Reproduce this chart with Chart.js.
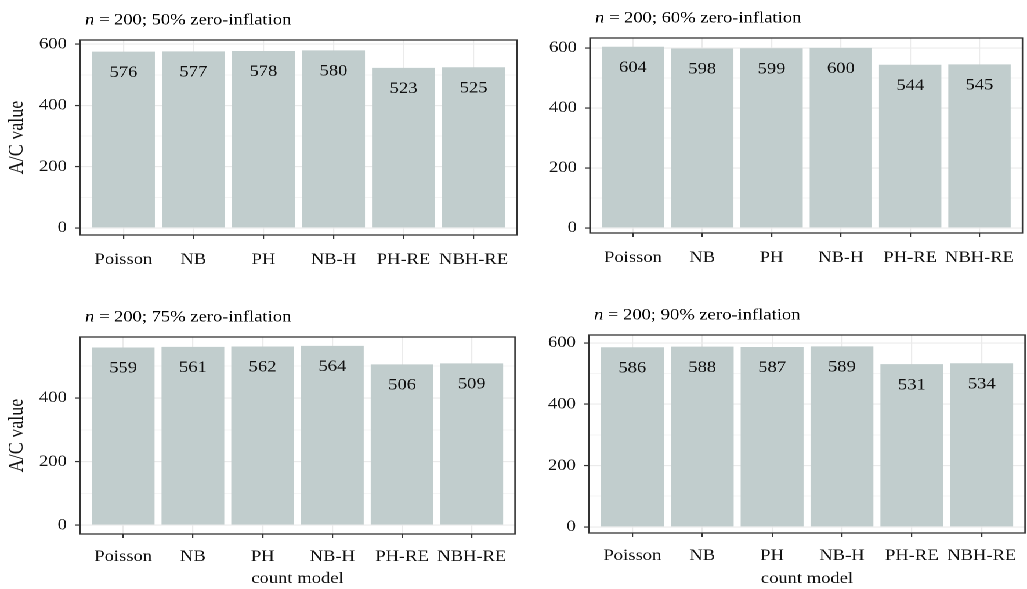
<!DOCTYPE html>
<html>
<head>
<meta charset="utf-8">
<title>A/C value by count model</title>
<script src="https://cdn.jsdelivr.net/npm/chart.js@4.4.1/dist/chart.umd.min.js"></script>
<style>
  html, body { margin: 0; padding: 0; background: #fff; overflow: hidden; }
  /* the figure is laid out on an 885px-wide sheet and widened to the window */
  #sheet { position: absolute; left: 0; top: 0; width: 885px; height: 589px;
           transform: scaleX(1.16045); transform-origin: 0 0; }
  .cell { position: absolute; }
  canvas { display: block; }
</style>
</head>
<body>
<div id="sheet">
  <div class="cell" style="left:0;top:0;width:470px;height:290px"><canvas id="p0" width="470" height="290"></canvas></div>
  <div class="cell" style="left:470px;top:0;width:415px;height:290px"><canvas id="p1" width="415" height="290"></canvas></div>
  <div class="cell" style="left:0;top:290px;width:470px;height:299px"><canvas id="p2" width="470" height="299"></canvas></div>
  <div class="cell" style="left:470px;top:290px;width:415px;height:299px"><canvas id="p3" width="415" height="299"></canvas></div>
</div>
<script>
// count models on the x axis
const categories = ['Poisson', 'NB', 'PH', 'NB-H', 'PH-RE', 'NBH-RE'];
// simulation settings shown in the panel titles
const sampleSize = 200;
const zeroInflation = ['50%', '60%', '75%', '90%'];
// A/C values per count model, one array per zero-inflation level
const ac50 = [576, 577, 578, 580, 523, 525];
const ac60 = [604, 598, 599, 600, 544, 545];
const ac75 = [559, 561, 562, 564, 506, 509];
const ac90 = [586, 588, 587, 589, 531, 534];
// y gridlines (labelled every 200, minor lines in between)
const yTicks = [0, 100, 200, 300, 400, 500, 600];

const SERIF = '"Liberation Serif", "Times New Roman", serif';
const BAR_FILL = '#c1cdcd';
const GRID = '#ebebeb';
const FRAME = '#333333';
const INK = '#111111';

// panel boxes: layout padding, y-axis band width, x-axis band height, y limits
const panels = [
  { canvas: 'p0', values: ac50, zi: zeroInflation[0], yMin: -23, yMax: 614,
    pad: { top: 40, left: 0, right: 24.5, bottom: 0 }, yBand: 68.9, xBand: 55, xPad: 11, yTitle: true,  xTitle: false },
  { canvas: 'p1', values: ac60, zi: zeroInflation[1], yMin: -17, yMax: 633,
    pad: { top: 38, left: 0, right: 1.7, bottom: 0 },  yBand: 38.4, xBand: 57, xPad: 11, yTitle: false, xTitle: false },
  { canvas: 'p2', values: ac75, zi: zeroInflation[2], yMin: -28, yMax: 592,
    pad: { top: 47, left: 0, right: 26.2, bottom: 0 }, yBand: 68.9, xBand: 55, xPad: 9,  yTitle: true,  xTitle: true },
  { canvas: 'p3', values: ac90, zi: zeroInflation[3], yMin: -20, yMax: 626,
    pad: { top: 45, left: 0, right: 1.7, bottom: 0 },  yBand: 37.6, xBand: 56, xPad: 9,  yTitle: false, xTitle: true }
];

// value labels inside the bars, the panel frame and the panel title
const panelDecor = {
  id: 'panelDecor',
  afterDatasetsDraw(chart, args, opts) {
    const { ctx, chartArea: { left, top, right, bottom } } = chart;
    const ds = chart.data.datasets[0];
    const meta = chart.getDatasetMeta(0);
    ctx.save();
    ctx.font = '16px ' + SERIF;
    ctx.fillStyle = INK;
    ctx.textAlign = 'center';
    ctx.textBaseline = 'middle';
    meta.data.forEach((bar, i) => {
      ctx.fillText(String(ds.data[i].y), bar.x, bar.y + 21);
    });

    ctx.strokeStyle = FRAME;
    ctx.lineWidth = 1.3;
    ctx.strokeRect(left, top, right - left, bottom - top);

    const tx = left + 4.3, ty = top - 19.5;
    ctx.textAlign = 'left';
    ctx.fillStyle = '#000';
    ctx.font = 'italic 16px ' + SERIF;
    ctx.fillText('n', tx, ty);
    const w = ctx.measureText('n').width;
    ctx.font = '16px ' + SERIF;
    ctx.fillText(' = ' + opts.n + '; ' + opts.zi + ' zero-inflation', tx + w, ty);
    ctx.restore();
  }
};

panels.forEach(p => {
  new Chart(document.getElementById(p.canvas), {
    type: 'bar',
    data: {
      datasets: [{
        data: p.values.map((v, i) => ({ x: i, y: v })),
        backgroundColor: BAR_FILL,
        borderWidth: 0,
        barPercentage: 0.9,
        categoryPercentage: 1.0
      }]
    },
    options: {
      responsive: false,
      devicePixelRatio: 2,
      animation: false,
      layout: { padding: p.pad },
      plugins: {
        legend: { display: false },
        tooltip: { enabled: false },
        panelDecor: { n: sampleSize, zi: p.zi }
      },
      scales: {
        x: {
          type: 'linear',
          offset: false,
          min: -0.62,
          max: 5.62,
          afterBuildTicks: s => { s.ticks = categories.map((c, i) => ({ value: i })); },
          afterFit: s => { s.height = p.xBand; },
          ticks: {
            autoSkip: false,
            maxRotation: 0,
            padding: p.xPad,
            color: INK,
            font: { family: SERIF, size: 16 },
            callback: v => categories[v]
          },
          grid: { offset: false, color: GRID, lineWidth: 1.1, tickColor: FRAME, tickLength: 4, tickWidth: 1.1, drawTicks: true },
          border: { display: false },
          title: {
            display: p.xTitle,
            text: 'count model',
            color: INK,
            font: { family: SERIF, size: 16 },
            padding: { top: 0, bottom: 0.4 }
          }
        },
        y: {
          type: 'linear',
          min: p.yMin,
          max: p.yMax,
          afterBuildTicks: s => { s.ticks = yTicks.filter(v => v <= p.yMax).map(v => ({ value: v })); },
          afterFit: s => { s.width = p.yBand; },
          ticks: {
            padding: 7,
            color: INK,
            font: { family: SERIF, size: 16 },
            callback: v => (v % 200 === 0 ? String(v) : '')
          },
          grid: {
            color: GRID,
            lineWidth: c => (c.tick && c.tick.value % 200 === 0 ? 1.1 : 0.6),
            tickColor: c => (c.tick && c.tick.value % 200 === 0 ? FRAME : 'rgba(0,0,0,0)'),
            tickWidth: 1.2,
            tickLength: 4.3,
            drawTicks: true
          },
          border: { display: false },
          title: {
            display: p.yTitle,
            text: 'A/C value',
            color: INK,
            font: { family: SERIF, size: 18 },
            padding: { top: 3.8, bottom: 0 }
          }
        }
      }
    },
    plugins: [panelDecor]
  });
});
</script>
</body>
</html>
